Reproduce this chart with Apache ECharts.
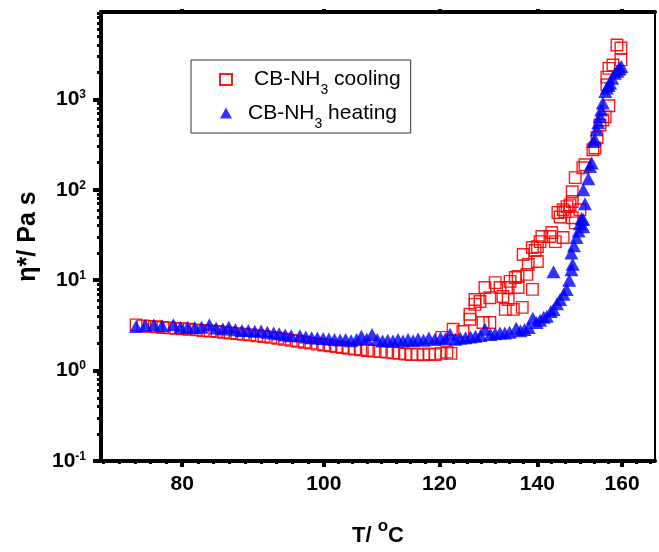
<!DOCTYPE html>
<html><head><meta charset="utf-8">
<script src="https://cdn.jsdelivr.net/npm/echarts@6/dist/echarts.min.js"></script>
<style>html,body{margin:0;padding:0;background:#fff}#c{width:659px;height:552px}</style>
</head><body><div id="c"></div>
<script>
// ---- data (T in °C, eta* in Pa s) ----
const coolingData = [
[74.4,3.2],[75.2,3.12],[76.0,3.08],[76.8,3.05],[77.6,3.0],[78.4,2.97],[79.2,2.93],[80.0,2.9],
[80.9,2.86],[81.8,2.82],[82.7,2.78],[83.6,2.74],[84.5,2.7],[85.4,2.65],[86.3,2.6],[87.2,2.56],[88.1,2.52],[89.0,2.48],
[90,2.43],[91,2.38],[92,2.33],[93,2.28],[94,2.22],[95,2.16],[96,2.11],[97,2.06],[98,2.01],[99,1.96],[100,1.92],
[101,1.88],[102,1.84],[103,1.8],[104,1.76],[105,1.73],[106,1.7],
[107.1,1.67],[108.2,1.64],[109.3,1.62],[110.4,1.6],[111.5,1.57],[112.6,1.55],[113.7,1.52],[114.8,1.5],[115.9,1.52],
[117.0,1.49],[118.1,1.53],[119.2,1.5],[120.3,1.55],[121.4,1.6],[122.2,1.55],
[120.4,2.33],[122.6,2.86],[124.5,2.7],[125.9,4.2],[125.9,3.7],[126.9,6.1],[126.9,5.4],[127.9,5.8],[128.5,3.4],[128.9,8.3],
[129.9,6.4],[129.9,3.4],[131.0,9.4],[132.0,8.3],[132.6,6.6],[133.1,4.75],[133.7,8.3],[133.7,6.1],[134.1,9.7],[134.8,4.75],
[135.2,10.7],[135.8,11.0],[135.8,8.3],[136.7,5.0],[136.9,19.2],[137.7,11.6],[138.0,14.9],[138.9,23.0],[138.9,7.9],[139.5,21.3],
[140.0,23.5],[140.0,16.1],[140.6,26.7],[141.0,30.4],[142.8,30.4],[143.2,33.6],[144.0,26.7],[145.8,29.6],[144.6,56],[145.1,50],
[145.8,60],[146.2,57],[146.7,65],[147.4,68],[147.9,95],[147.9,74],[147.9,49],[148.6,136],[148.6,43],[149.7,60],
[150.4,175],[150.9,189],[152.8,277],[153.3,290],[153.8,376],[154.5,520],[155.2,590],[155.8,640],[156.7,850],[156.2,1450],
[156.2,1760],[156.7,2200],[157.7,2400],[159.7,2730],[159.7,3700],[158.7,3990]
];
const heatingData = [
[74.4,3.08],[75.5,3.17],[76.5,3.19],[77.5,3.14],[78.9,3.22],[79.8,3.02],[80.7,3.02],[81.6,2.98],[82.5,3.02],[83.5,3.22],
[84.4,2.95],[85.3,2.88],[86.1,3.02],[87.0,2.83],[87.9,2.78],[88.8,2.78],[89.7,2.72],[90.6,2.74],[91.5,2.65],[92.4,2.6],
[93.2,2.56],[94.1,2.47],[95.0,2.43],[96.3,2.43],[97.2,2.35],[98.1,2.31],[99.0,2.29],[99.9,2.27],[100.8,2.23],[101.7,2.2],
[102.6,2.18],[103.5,2.2],[104.4,2.14],[105.3,2.2],[106.1,2.39],[107.0,2.23],[107.9,2.5],[108.8,2.2],[109.7,2.12],[110.6,2.16],
[111.5,2.12],[112.4,2.2],[113.3,2.12],[114.2,2.2],[115.1,2.14],[116.0,2.23],[117.0,2.16],[118.0,2.29],[119.1,2.2],[120.2,2.29],
[121.1,2.25],[122.0,2.52],[123.0,2.22],[124.0,2.28],[125.0,2.3],[126.0,2.35],[127.0,2.4],[128.0,2.45],[128.9,2.86],[130.0,2.5],
[131.0,2.55],[132.0,2.6],[133.0,2.6],[134.0,2.65],[135.4,2.93],[136.3,2.75],[137.2,2.85],[138.1,3.0],[139.0,3.78],[139.8,3.4],
[140.6,3.6],[141.4,3.9],[142.1,4.0],[143.0,4.5],[143.6,4.75],[143.6,12.4],[144.4,5.5],[145.1,6.1],[145.9,7.0],[146.6,7.9],
[147.2,10],[147.7,13],[148.0,15],[147.7,20],[148.3,24],[148.9,29.6],[149.4,35],[149.7,42],[150.1,48],[150.5,47],
[150.5,39],[150.9,70],[150.5,100],[151.7,132],[152.1,181],[152.5,198],[152.9,342],[153.3,357],[153.7,461],[154.1,550],
[154.5,646],[154.8,760],[155.2,908],[155.8,1219],[156.2,1330],[156.6,1420],[157.0,1510],[157.5,1714],[158.2,1946],[158.8,2050],
[159.1,2150],[159.4,2210],[159.8,2300]
];
const xMajorTicks = [80, 100, 120, 140, 160];
const xMinorCounts = [9, 8, 7, 6];
const yMajorTicks = [0.1, 1, 10, 100, 1000];
const seriesNames = ['CB-NH3 cooling', 'CB-NH3 heating'];

// ---- axis ranges ----
const XMIN = 70.4, XMAX = 168.5, YMIN = 0.1, YMAX = 9240;
const FONT = 'Liberation Sans, Arial, sans-serif';

function xMinorTicks() {
  const out = [];
  const L = xMajorTicks.map(v => Math.log10(v));
  for (let i = 0; i < L.length - 1; i++) {
    const n = xMinorCounts[i], st = (L[i+1] - L[i]) / n;
    for (let k = 1; k < n; k++) out.push(Math.pow(10, L[i] + st * k));
  }
  const st0 = (L[1] - L[0]) / xMinorCounts[0];
  for (let v = L[0] - st0; v > Math.log10(XMIN); v -= st0) out.push(Math.pow(10, v));
  const last = xMinorCounts.length - 1;
  const st1 = (L[L.length-1] - L[L.length-2]) / xMinorCounts[last];
  for (let v = L[L.length-1] + st1; v < Math.log10(XMAX); v += st1) out.push(Math.pow(10, v));
  return out;
}
function yMinorTicks() {
  const out = [];
  for (let e = -1; e <= 3; e++) for (let m = 2; m <= 9; m++) {
    const v = m * Math.pow(10, e);
    if (v < YMAX) out.push(+v.toPrecision(3));
  }
  return out;
}
const xMinor = xMinorTicks(), yMinor = yMinorTicks();

const blk = '#000';
function xAx(pos, major, showLabel, showLine) {
  return {
    type: 'log', logBase: 10, position: pos, min: XMIN, max: XMAX, gridIndex: 0,
    axisLine: { show: showLine, onZero: false, lineStyle: { color: blk, width: 4 } },
    axisTick: { show: true, inside: false, customValues: major ? xMajorTicks : xMinor,
      length: major ? 6 : 3, lineStyle: { color: blk, width: major ? 4 : 3 } },
    minorTick: { show: false }, splitLine: { show: false }, minorSplitLine: { show: false },
    axisLabel: { show: showLabel, customValues: xMajorTicks, margin: 13,
      fontSize: 21, fontWeight: 'bold', fontFamily: FONT, color: blk, formatter: v => String(Math.round(v)) }
  };
}
function yAx(pos, major, showLabel, showLine, lw, ticks) {
  return {
    type: 'log', logBase: 10, position: pos, min: YMIN, max: YMAX, gridIndex: 0,
    axisLine: { show: showLine, onZero: false, lineStyle: { color: blk, width: lw } },
    axisTick: { show: ticks, inside: false, customValues: major ? yMajorTicks : yMinor,
      length: major ? 8 : 4, lineStyle: { color: blk, width: major ? 4 : 3 } },
    minorTick: { show: false }, splitLine: { show: false }, minorSplitLine: { show: false },
    axisLabel: { show: showLabel, customValues: yMajorTicks, margin: 15,
      formatter: v => '{b|10}{s|' + Math.round(Math.log10(v)) + '}',
      rich: {
        b: { fontSize: 21, fontWeight: 'bold', fontFamily: FONT, color: blk },
        s: { fontSize: 12, fontWeight: 'bold', fontFamily: FONT, color: blk, padding: [0, 0, 9, 0] }
      } }
  };
}

const xAxes = [xAx('bottom', true, true, true), xAx('bottom', false, false, false),
               xAx('top', true, false, true), xAx('top', false, false, false)];
xAxes[2].axisTick.length = 3; xAxes[3].axisTick.length = 2;
xAxes[0].name = '{n|T/ }{s|o}{n|C}';
xAxes[0].nameLocation = 'middle';
xAxes[0].nameGap = 57;
xAxes[0].nameTextStyle = { rich: {
  n: { fontSize: 22, fontWeight: 'bold', fontFamily: FONT, color: blk },
  s: { fontSize: 17, fontWeight: 'bold', fontFamily: FONT, color: blk, padding: [0, 0, 19, 0] } } };

const yAxes = [yAx('left', true, true, true, 4, true), yAx('left', false, false, false, 4, true),
               yAx('right', true, false, true, 2, false)];
yAxes[0].name = 'η*/ Pa s';
yAxes[0].nameLocation = 'middle';
yAxes[0].nameGap = 51;
yAxes[0].nameTextStyle = { fontSize: 25, fontWeight: 'bold', fontFamily: FONT, color: blk };

const chart = echarts.init(document.getElementById('c'), null, { renderer: 'canvas' });
chart.setOption({
  animation: false,
  backgroundColor: '#fff',
  grid: { left: 101, right: 4, top: 12, bottom: 90, containLabel: false },
  xAxis: xAxes,
  yAxis: yAxes,
  legend: {
    orient: 'vertical', left: 191, top: 60,
    padding: [9, 10, 2, 28], itemGap: 5, itemWidth: 12, itemHeight: 11, symbolKeepAspect: true,
    borderColor: '#333', borderWidth: 1, backgroundColor: '#fff',
    data: seriesNames,
    formatter: name => name === seriesNames[0]
      ? '{t1|CB-NH}{sub|3}{t| cooling}' : '{t2|CB-NH}{sub|3}{t| heating}',
    textStyle: { fontFamily: FONT, fontSize: 21, color: blk, rich: {
      t: { fontSize: 21, fontFamily: FONT, color: blk },
      t1: { fontSize: 21, fontFamily: FONT, color: blk, padding: [0, 0, 0, 17] },
      t2: { fontSize: 21, fontFamily: FONT, color: blk, padding: [0, 0, 0, 11] },
      sub: { fontSize: 14, fontFamily: FONT, color: blk, padding: [22, 0, 0, 0] } } }
  },
  series: [
    { name: seriesNames[0], type: 'scatter', xAxisIndex: 0, yAxisIndex: 0,
      symbol: 'rect', symbolSize: 11.5, data: coolingData,
      itemStyle: { color: 'rgba(255,255,255,0)', borderColor: '#ff0000', borderWidth: 1.4, opacity: 0.9 } },
    { name: seriesNames[1], type: 'scatter', xAxisIndex: 0, yAxisIndex: 0,
      symbol: 'triangle', symbolSize: [14, 13], data: heatingData,
      itemStyle: { color: '#0000ff' } }
  ]
});
</script></body></html>
